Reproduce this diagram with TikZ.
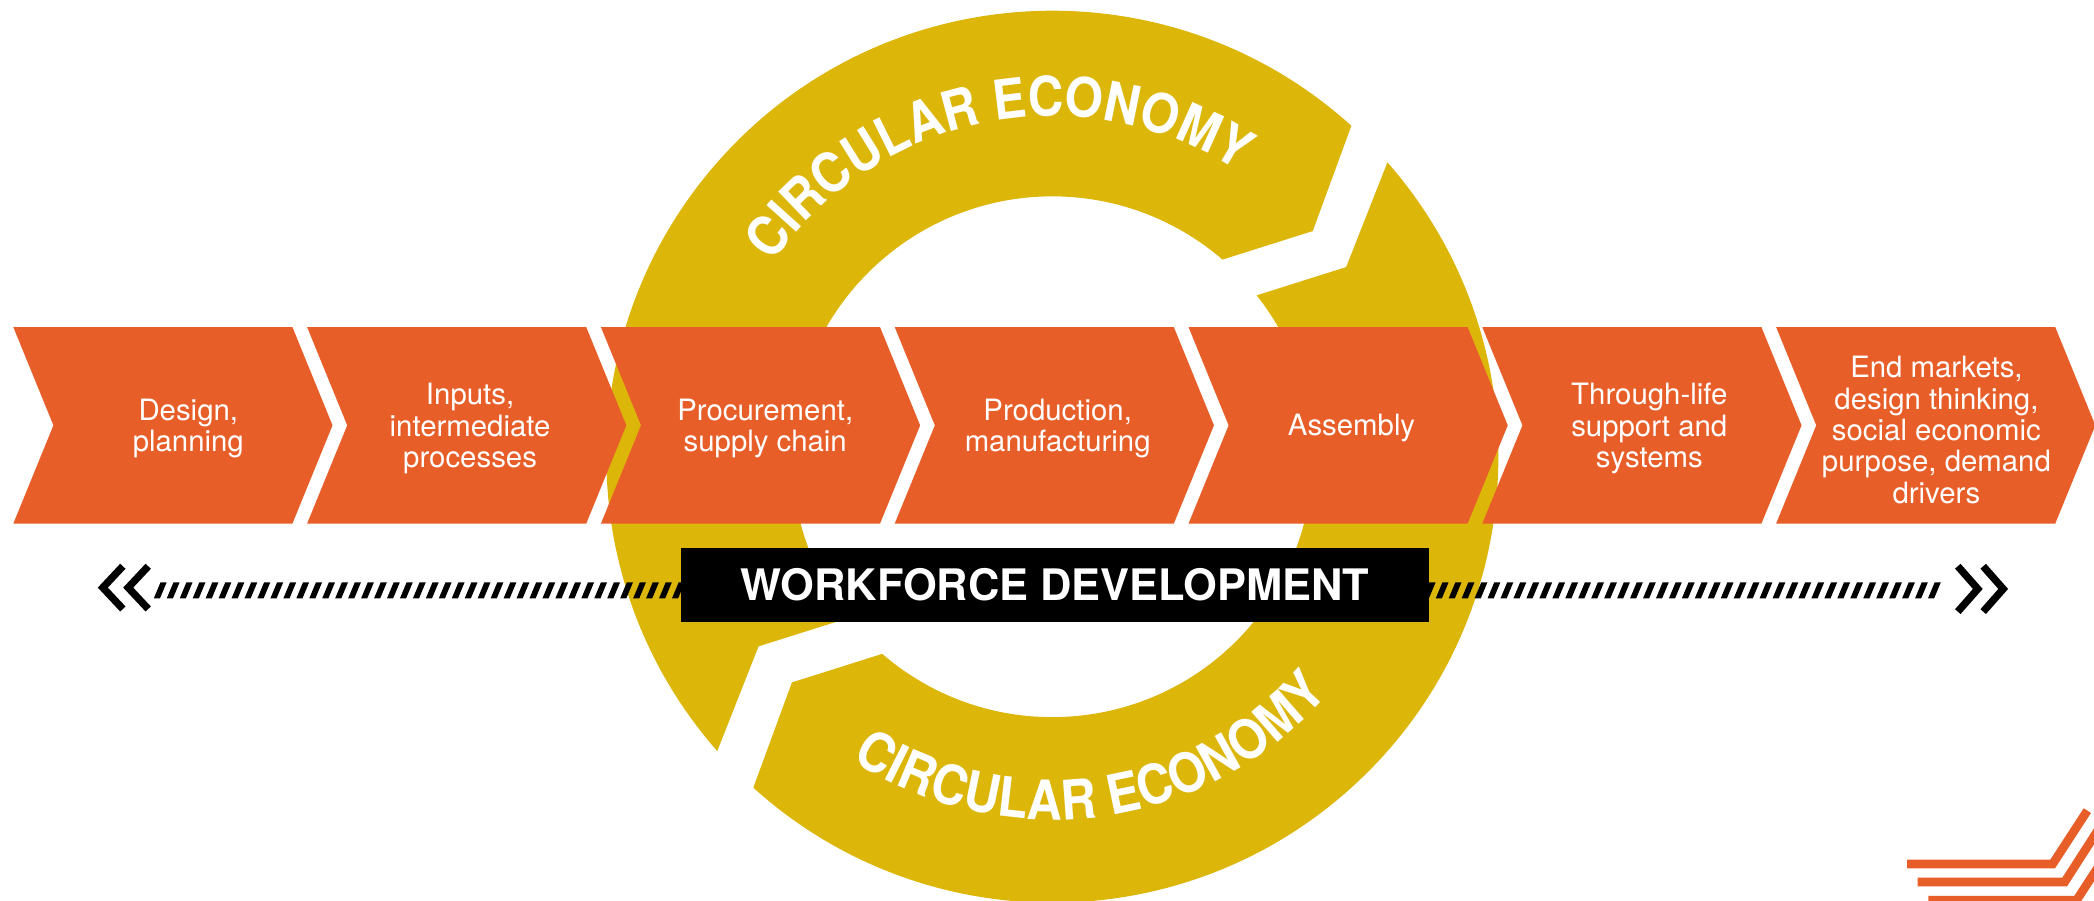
\documentclass[tikz,border=0pt]{standalone}
\usepackage{fontspec}
\setmainfont{TeX Gyre Heros}
\newfontfamily\ringfont[FakeStretch=0.9]{TeX Gyre Heros}
\usetikzlibrary{calc,decorations.text,decorations.markings}

\definecolor{chevorange}{RGB}{232,94,40}
\definecolor{ringgold}{RGB}{221,182,10}

\tikzset{
  chevron/.style={fill=chevorange},
  steplabel/.style={text=white, align=center, inner sep=0pt, font=\fontsize{22}{23.5}\selectfont},
  ring/.style={fill=ringgold},
  ringtext/.style={decorate, decoration={text along path, text align=center, text color=white,
      text={|\ringfont\fontsize{41}{41}\selectfont\bfseries|#1}}},
  hatch/.style={decorate, decoration={markings, mark=between positions 0 and 1 step 9.7pt with
      {\fill (-4.8pt,-6pt) -- (-0.2pt,-6pt) -- (4.8pt,6pt) -- (0.2pt,6pt) -- cycle;}}},
  dblarrow/.style={line width=5.5pt, miter limit=10},
  logo/.style={draw=chevorange, line width=6.5pt},
}

\begin{document}
\begin{tikzpicture}[x=1pt,y=1pt,yscale=-1]
\useasboundingbox (0,0) rectangle (1568,674);
\coordinate (C) at (788,342);

%Ring: upper arrow
\fill[ring] ($(C)+(-47.9:334)$) arc[start angle=-47.9, end angle=-221.3, radius=334] -- (568,484)
  -- ($(C)+(-218.3:195)$) arc[start angle=-218.3, end angle=-49.2, radius=195] -- (983,173) -- cycle;
%Ring: lower arrow
\fill[ring] ($(C)+(-41.3:334)$) arc[start angle=-41.3, end angle=132.1, radius=334] -- (593,511)
  -- ($(C)+(130.8:195)$) arc[start angle=130.8, end angle=-38.3, radius=195] -- (1008,200) -- cycle;

%Ring labels
\path[ringtext={CIRCULAR ECONOMY}] ($(C)+(-161:255)$) arc[start angle=-161, end angle=-41, radius=255];
\path[ringtext={CIRCULAR ECONOMY}] ($(C)+(142:272)$) arc[start angle=142, end angle=22, radius=272];

%Chevrons
\foreach \x in {10,230,450,670,890,1110,1330}
  \fill[chevron] (\x,245) -- ++(209,0) -- ++(30,73.5) -- ++(-30,73.5) -- ++(-209,0) -- ++(30,-73.5) -- cycle;

% Text Node
\node[steplabel] (design) at (141,321) {Design,\\planning};
\node[steplabel] (inputs) at (352,321) {Inputs,\\intermediate\\processes};
\node[steplabel] (procure) at (573,321) {Procurement,\\supply chain};
\node[steplabel] (produce) at (792,321) {Production,\\manufacturing};
\node[steplabel] (assembly) at (1012,320.5) {Assembly};
\node[steplabel] (support) at (1235,321) {Through-life\\support and\\systems};
\node[steplabel] (markets) at (1450,322) {End markets,\\design thinking,\\social economic\\purpose, demand\\drivers};

%Workforce bar
\node[fill=black, text=white, minimum width=560, minimum height=56, inner sep=0pt,
  font=\fontsize{32.5}{34}\selectfont\bfseries] (wfd) at (790,438) {WORKFORCE DEVELOPMENT};
\coordinate (lend) at (120,442);
\coordinate (rend) at (1457,442);
\path[hatch] (lend) -- (lend -| wfd.west);
\path[hatch] (rend -| wfd.east) -- (rend);
\draw[dblarrow] (92,424) -- (77,440) -- (92,456);
\draw[dblarrow] (111,424) -- (96,440) -- (111,456);
\draw[dblarrow] (1466,424) -- (1481,441) -- (1466,458);
\draw[dblarrow] (1485,424) -- (1500,441) -- (1485,458);

%Corner mark
\draw[logo] (1428,647) -- (1537,647) -- (1563,607);
\draw[logo] (1436,660.5) -- (1546,660.5) -- (1572,620);
\draw[logo] (1444,674) -- (1555,674) -- (1581,634);
\end{tikzpicture}
\end{document}
